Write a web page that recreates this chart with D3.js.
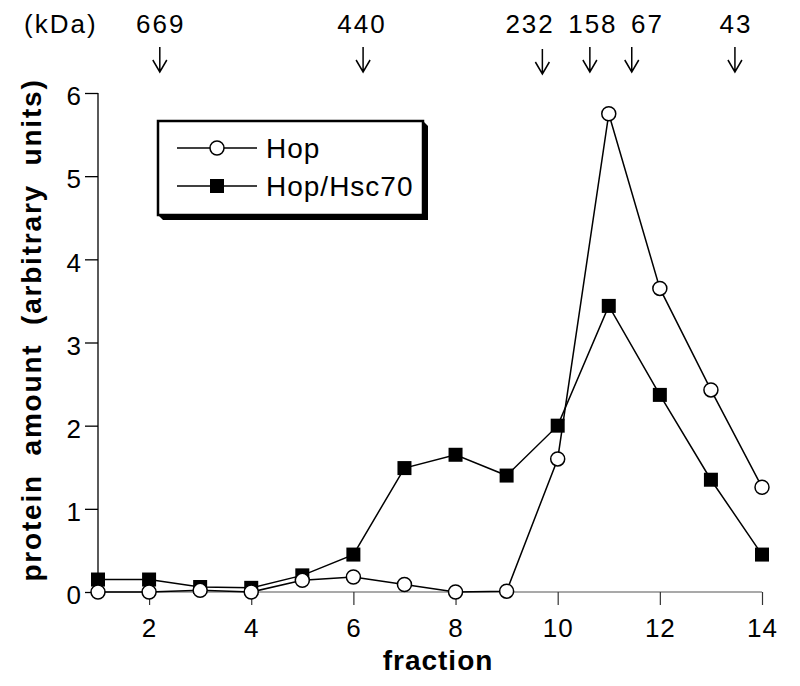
<!DOCTYPE html>
<html><head><meta charset="utf-8">
<script src="https://cdn.jsdelivr.net/npm/d3@7"></script>
<style>body{margin:0;background:#fff}svg{display:block}</style>
</head><body>
<svg id="c" width="800" height="686"></svg>
<script>
const fractions = [1,2,3,4,5,6,7,8,9,10,11,12,13,14];
const hop = [0.0,0.0,0.02,0.0,0.14,0.18,0.09,0.0,0.01,1.6,5.75,3.65,2.43,1.26];
const hopHsc70 = [0.15,0.15,0.06,0.05,0.2,0.45,1.49,1.65,1.4,2.0,3.44,2.37,1.35,0.45];
const xTicks = [2,4,6,8,10,12,14];
const yTicks = [0,1,2,3,4,5,6];
const markerLabels = ["669","440","232","158","67","43"];
const markerArrowFraction = [2.21,6.19,9.70,10.63,11.45,13.47];
const markerLabelFraction = [2.21,6.15,9.44,10.67,11.74,13.47];
const seriesNames = ["Hop","Hop/Hsc70"];

const svg = d3.select("#c");
const FONT = "'Liberation Sans', Arial, Helvetica, sans-serif";
const x = d3.scaleLinear().domain([1,14]).range([98,762]);
const y = d3.scaleLinear().domain([0,6]).range([592,93]);

// y axis
const yAxis = svg.append("g").attr("transform","translate(98,0)")
  .call(d3.axisLeft(y).tickValues(yTicks).tickSize(13).tickPadding(4).tickFormat(d3.format("d")));
yAxis.select(".domain").attr("d", `M0,${y(6)}V${y(0)}`).attr("stroke","#000").attr("stroke-width",1.3);
yAxis.selectAll(".tick line").attr("stroke","#000").attr("stroke-width",1.3);
yAxis.selectAll(".tick text").attr("font-family",FONT).attr("font-size",26).attr("fill","#000").attr("dy","0.45em");

// x axis
const xAxis = svg.append("g").attr("transform",`translate(0,${y(0)})`)
  .call(d3.axisBottom(x).tickValues(xTicks).tickSize(13).tickPadding(14).tickFormat(d3.format("d")));
xAxis.select(".domain").attr("d", `M${x(1)},0H${x(14)}`).attr("stroke","#555").attr("stroke-width",1.2);
xAxis.selectAll(".tick line").attr("stroke","#333").attr("stroke-width",1.2);
xAxis.selectAll(".tick text").attr("font-family",FONT).attr("font-size",26).attr("fill","#000").attr("letter-spacing",1);

// axis titles
svg.append("text").attr("x",(x(1)+x(14))/2+8).attr("y",670).attr("text-anchor","middle")
  .attr("font-family",FONT).attr("font-size",28).attr("font-weight","bold").attr("letter-spacing",1).text("fraction");
svg.append("text").attr("transform","translate(41,330) rotate(-90)").attr("text-anchor","middle")
  .attr("font-family",FONT).attr("font-size",28).attr("font-weight","bold")
  .attr("letter-spacing",1.8).attr("word-spacing",9)
  .text("protein amount (arbitrary units)");

// top markers
svg.append("text").attr("x",24).attr("y",33).attr("font-family",FONT).attr("font-size",26).attr("letter-spacing",2).text("(kDa)");
markerLabels.forEach((lab,i)=>{
  svg.append("text").attr("x",x(markerLabelFraction[i])+1).attr("y",33).attr("text-anchor","middle")
    .attr("font-family",FONT).attr("font-size",26).attr("letter-spacing",2).text(lab);
  const ax = x(markerArrowFraction[i]);
  const off = i===2 ? 2 : 0;
  const y0 = 47+off, y1 = 72+off;
  svg.append("path").attr("d",`M${ax},${y0}V${y1}M${ax-7},${y1-12}L${ax},${y1}L${ax+7},${y1-12}`)
    .attr("fill","none").attr("stroke","#000").attr("stroke-width",1.5);
});

// lines
const line = d3.line().x((d,i)=>x(fractions[i])).y(d=>y(d));
svg.append("path").datum(hop).attr("d",line).attr("fill","none").attr("stroke","#000").attr("stroke-width",1.5);
svg.append("path").datum(hopHsc70).attr("d",line).attr("fill","none").attr("stroke","#000").attr("stroke-width",1.5);

// markers
svg.selectAll(".sq").data(hopHsc70).enter().append("rect")
  .attr("x",(d,i)=>x(fractions[i])-7).attr("y",d=>y(d)-7).attr("width",14).attr("height",14).attr("fill","#000");
svg.selectAll(".ci").data(hop).enter().append("circle")
  .attr("cx",(d,i)=>x(fractions[i])).attr("cy",d=>y(d)).attr("r",7).attr("fill","#fff").attr("stroke","#000").attr("stroke-width",1.5);

// legend
const L=158,T=121,R=423,B=215,S=5;
svg.append("polygon").attr("points",`${L},${B} ${L+S},${B+S} ${R+S},${B+S} ${R+S},${T+S} ${R},${T}`).attr("fill","#000");
svg.append("rect").attr("x",L).attr("y",T).attr("width",R-L).attr("height",B-T).attr("fill","#fff").attr("stroke","#000").attr("stroke-width",2.5);
const legY=[148,186];
seriesNames.forEach((n,i)=>{
  svg.append("line").attr("x1",177).attr("x2",257).attr("y1",legY[i]).attr("y2",legY[i]).attr("stroke","#000").attr("stroke-width",1.3);
  if(i===0) svg.append("circle").attr("cx",217).attr("cy",legY[i]).attr("r",7).attr("fill","#fff").attr("stroke","#000").attr("stroke-width",1.5);
  else svg.append("rect").attr("x",210).attr("y",legY[i]-7).attr("width",14).attr("height",14).attr("fill","#000");
  svg.append("text").attr("x",266).attr("y",legY[i]+10).attr("font-family",FONT).attr("font-size",28).attr("letter-spacing",1).text(n);
});
</script>
</body></html>
